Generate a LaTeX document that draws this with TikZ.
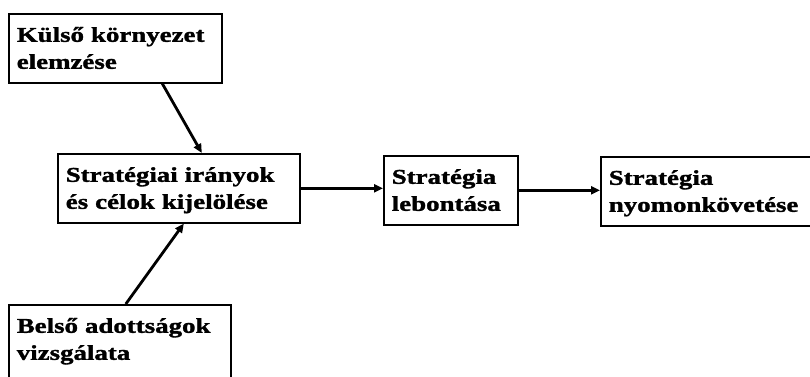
\documentclass[tikz,border=0pt]{standalone}
\usepackage{fontspec}
\setmainfont{Liberation Serif}[FakeStretch=1.28,FakeBold=1.5]
\usetikzlibrary{arrows.meta}

\tikzset{
  doboz/.style={draw, line width=1.6pt, anchor=north west, align=left,
    inner xsep=8pt, inner ysep=0pt, text height=28pt, text depth=41pt,
    font=\fontsize{21}{27}\selectfont\bfseries},
  nyil/.style={line width=2.8pt, -{Triangle[length=9pt,width=8pt]}}
}

\begin{document}
\begin{tikzpicture}[x=1pt,y=1pt]
    \clip (0,0) rectangle (810,376);
    \fill[white] (0,0) rectangle (810,376);
    % dobozok
    \node[doboz, minimum width=213pt, minimum height=69pt, text width=197pt] (kulso) at (8,363) {K\"uls\H{o} k\"ornyezet\\elemz\'ese};
    \node[doboz, minimum width=242pt, minimum height=69pt, text width=226pt] (celok) at (57,223) {Strat\'egiai ir\'anyok\\\'es c\'elok kijel\"ol\'ese};
    \node[doboz, minimum width=134pt, minimum height=69pt, text width=118pt] (lebont) at (383,221) {Strat\'egia\\lebont\'asa};
    \node[doboz, minimum width=215pt, minimum height=69pt, text width=199pt] (kovet) at (600,220) {Strat\'egia\\nyomonk\"ovet\'ese};
    \node[doboz, minimum width=222pt, minimum height=84pt, text width=206pt, text depth=56pt] (belso) at (8,72) {Bels\H{o} adotts\'agok\\vizsg\'alata};
    % nyilak
    \draw[nyil] ([xshift=47pt]kulso.south) -- ([xshift=23pt]celok.north);
    \draw[nyil] ([xshift=6pt]belso.north) -- ([xshift=5pt]celok.south);
    \draw[nyil] (celok.east) -- (lebont.west |- celok.east);
    \draw[nyil] (lebont.east) -- (kovet.west |- lebont.east);
\end{tikzpicture}
\end{document}
